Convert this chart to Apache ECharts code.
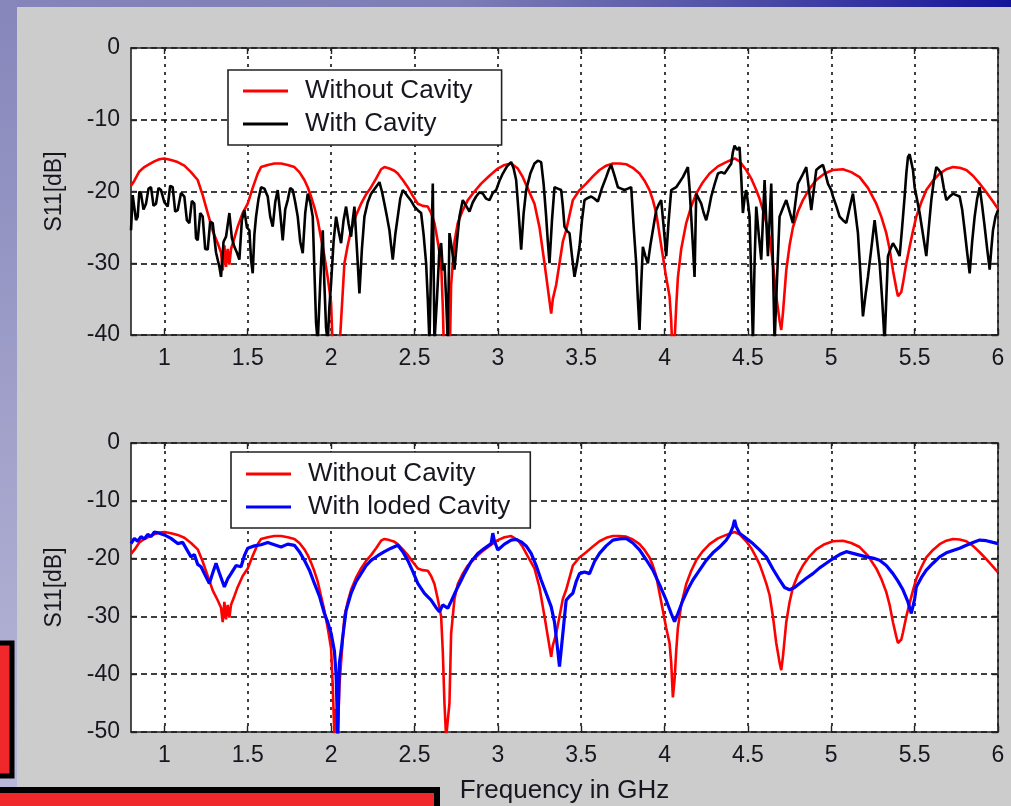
<!DOCTYPE html>
<html>
<head>
<meta charset="utf-8">
<script src="https://cdn.jsdelivr.net/npm/echarts@6/dist/echarts.min.js"></script>
<style>
html,body{margin:0;padding:0;background:#cccccc;}
#chart{width:1011px;height:806px;}
</style>
</head>
<body>
<div id="chart"></div>
<script>
// ---------- DATA (frequency GHz, S11 dB) ----------
const freqTicks = [1, 1.5, 2, 2.5, 3, 3.5, 4, 4.5, 5, 5.5, 6];
const topYTicks = [0, -10, -20, -30, -40];
const bottomYTicks = [0, -10, -20, -30, -40, -50];
const seriesNames = ['Without Cavity', 'With Cavity', 'With loded Cavity'];
const xTitle = 'Frequency in GHz';
const yTitle = 'S11[dB]';

const withoutCavity = [
[0.80,-19.2],[0.82,-18.5],[0.85,-17.2],[0.88,-16.6],[0.91,-16.2],[0.94,-15.8],[0.97,-15.5],[1.00,-15.4],[1.04,-15.6],[1.08,-15.9],
[1.12,-16.4],[1.16,-17.3],[1.20,-18.4],[1.23,-20.5],[1.26,-23],[1.29,-25.5],[1.32,-27.2],[1.34,-28.5],[1.35,-31],[1.36,-27.5],
[1.37,-30.5],[1.38,-28],[1.39,-30.2],[1.40,-28],[1.42,-26.5],[1.44,-24.9],[1.47,-23],[1.50,-21.7],[1.53,-19.5],[1.56,-17.5],
[1.58,-16.6],[1.62,-16.3],[1.66,-16.1],[1.70,-16.1],[1.74,-16.3],[1.78,-16.6],[1.81,-17.3],[1.84,-18.4],[1.86,-19.4],[1.88,-20.7],
[1.90,-22.2],[1.92,-24],[1.94,-26.5],[1.96,-29],[1.98,-32],[2.00,-35.5],[2.01,-42],[2.02,-51],[2.03,-46],[2.04,-51],
[2.05,-42],[2.06,-38],[2.08,-30],[2.10,-27.5],[2.12,-25.4],[2.15,-23.3],[2.18,-21.7],[2.21,-20.4],[2.24,-19.4],[2.27,-18.2],
[2.30,-16.9],[2.32,-16.6],[2.35,-16.8],[2.38,-17.1],[2.40,-17.5],[2.43,-18.4],[2.46,-19.4],[2.49,-20.6],[2.52,-21.7],[2.55,-22],
[2.58,-22.1],[2.60,-23],[2.62,-24.4],[2.64,-27],[2.66,-30],[2.67,-36],[2.68,-45],[2.69,-51],[2.70,-51],[2.71,-45],
[2.72,-33],[2.74,-27],[2.76,-24.4],[2.79,-22.6],[2.82,-21.2],[2.86,-20],[2.90,-18.9],[2.95,-17.8],[3.00,-16.8],[3.04,-16.3],
[3.08,-16.1],[3.12,-16.8],[3.15,-18],[3.18,-19.6],[3.22,-21.7],[3.25,-25],[3.28,-30],[3.30,-33.5],[3.32,-37],[3.33,-35],
[3.35,-33],[3.37,-30],[3.39,-27],[3.41,-25.4],[3.45,-21.2],[3.49,-19.8],[3.53,-18.9],[3.57,-17.9],[3.61,-17],[3.65,-16.4],
[3.69,-16.1],[3.73,-16.1],[3.77,-16.2],[3.81,-16.7],[3.85,-17.5],[3.88,-18.5],[3.91,-19.8],[3.93,-21.2],[3.95,-23],[3.97,-26],
[3.99,-29],[4.01,-32],[4.03,-34.6],[4.04,-38],[4.05,-44],[4.06,-41],[4.07,-36],[4.08,-32],[4.10,-28],[4.13,-24.4],
[4.16,-22.1],[4.19,-20.3],[4.23,-18.7],[4.27,-17.5],[4.32,-16.5],[4.37,-15.9],[4.42,-15.4],[4.45,-15.8],[4.49,-17],[4.52,-18.2],
[4.55,-19.8],[4.57,-21],[4.59,-22.6],[4.61,-24.3],[4.63,-26.3],[4.65,-30],[4.67,-34.6],[4.69,-38],[4.70,-39.3],[4.71,-37],
[4.73,-31],[4.75,-27.5],[4.77,-25],[4.80,-22.8],[4.83,-21.2],[4.87,-19.6],[4.91,-18.4],[4.96,-17.5],[5.01,-17],[5.07,-16.9],
[5.12,-17.3],[5.17,-18],[5.22,-19.5],[5.27,-21.7],[5.30,-23.5],[5.33,-25.8],[5.35,-28],[5.37,-31],[5.39,-33.5],[5.40,-34.6],
[5.42,-34],[5.43,-32.8],[5.45,-30],[5.47,-27.7],[5.49,-25.5],[5.51,-23.5],[5.54,-21.5],[5.57,-19.8],[5.61,-18.5],[5.65,-17.5],
[5.69,-16.9],[5.73,-16.6],[5.77,-16.7],[5.81,-17],[5.85,-17.8],[5.89,-18.9],[5.93,-20.1],[5.97,-21.4],[6.00,-22.4]
];

const withCavity = [
[0.80,-25.4],[0.81,-20.5],[0.82,-20.7],[0.83,-24],[0.84,-23.5],[0.85,-20],[0.86,-20.3],[0.875,-22.5],[0.89,-21.7],[0.905,-19.6],
[0.92,-19.4],[0.935,-22],[0.95,-21.7],[0.965,-19.5],[0.98,-19.8],[1.00,-21.5],[1.02,-22.1],[1.035,-19.2],[1.05,-19.4],[1.065,-22.8],
[1.08,-22.6],[1.10,-20.2],[1.12,-20.7],[1.135,-24],[1.15,-24.4],[1.165,-21.3],[1.18,-21.7],[1.19,-26.5],[1.20,-26.8],[1.215,-23],
[1.23,-23.5],[1.245,-28],[1.26,-28.1],[1.275,-24.2],[1.29,-24.4],[1.31,-28.5],[1.33,-30.5],[1.34,-31.9],[1.355,-27],[1.37,-26.3],
[1.39,-23],[1.405,-26.5],[1.42,-27.7],[1.435,-28.5],[1.45,-29.5],[1.465,-24],[1.48,-22.6],[1.495,-25],[1.51,-25.4],[1.52,-29.5],
[1.53,-31.4],[1.54,-26],[1.55,-23.5],[1.565,-21],[1.58,-19.4],[1.60,-19.6],[1.62,-20.7],[1.635,-23.5],[1.65,-24.9],[1.665,-21.5],
[1.68,-19.8],[1.695,-23],[1.71,-26.8],[1.725,-22.5],[1.74,-21.2],[1.755,-19.5],[1.77,-19.8],[1.785,-21.5],[1.80,-23.5],[1.815,-27],
[1.83,-28.6],[1.845,-23],[1.86,-20.3],[1.875,-21.5],[1.89,-23.5],[1.90,-31],[1.91,-38.3],[1.92,-41],[1.93,-41],[1.94,-30],
[1.95,-25.4],[1.96,-33],[1.97,-39],[1.98,-41],[1.99,-36],[2.00,-32.8],[2.015,-27],[2.03,-23.5],[2.045,-25.5],[2.06,-27.2],
[2.075,-24],[2.09,-22.1],[2.105,-24.5],[2.12,-26.3],[2.13,-24],[2.14,-22.1],[2.155,-28],[2.17,-34.2],[2.185,-28],[2.20,-23.5],
[2.22,-21.5],[2.24,-20.3],[2.265,-19.5],[2.29,-18.7],[2.305,-20],[2.32,-21.7],[2.335,-23.5],[2.35,-25.4],[2.36,-27.5],[2.37,-29.5],
[2.385,-26],[2.40,-23.5],[2.415,-21],[2.43,-19.8],[2.445,-20.2],[2.46,-20.7],[2.48,-21.3],[2.50,-22.1],[2.52,-22.6],[2.54,-23],
[2.555,-26],[2.57,-30],[2.58,-35],[2.59,-41],[2.60,-30],[2.61,-18.9],[2.615,-30],[2.62,-41],[2.635,-35],[2.65,-28],
[2.66,-27.2],[2.67,-31],[2.68,-30],[2.69,-35],[2.70,-41],[2.71,-25.8],[2.725,-28],[2.74,-30.9],[2.755,-27],[2.77,-23.5],
[2.79,-21.2],[2.81,-22],[2.83,-22.8],[2.85,-21.5],[2.87,-20.7],[2.89,-20.1],[2.91,-20.3],[2.93,-21],[2.95,-21.2],[2.97,-20.2],
[2.99,-19.8],[3.01,-18.5],[3.03,-17.5],[3.055,-16.5],[3.08,-15.9],[3.095,-16.8],[3.11,-18.4],[3.125,-23],[3.14,-28.1],[3.155,-23],
[3.17,-19.8],[3.195,-17.5],[3.22,-16.1],[3.24,-15.7],[3.26,-15.9],[3.275,-19],[3.29,-23.5],[3.30,-27],[3.31,-30],[3.325,-24],
[3.34,-19.4],[3.36,-19.6],[3.38,-19.8],[3.39,-22],[3.40,-24.9],[3.415,-25.5],[3.43,-25.8],[3.445,-29],[3.46,-31.9],[3.475,-30],
[3.49,-27.7],[3.505,-24],[3.52,-21.2],[3.54,-20.9],[3.56,-20.7],[3.58,-21],[3.60,-21.4],[3.625,-19.5],[3.65,-18],[3.665,-17],
[3.68,-16.3],[3.70,-17.8],[3.72,-19.4],[3.74,-19.6],[3.76,-19.8],[3.78,-19.6],[3.80,-19.4],[3.815,-25],[3.83,-30],[3.84,-35],
[3.85,-39.3],[3.86,-33],[3.87,-27.7],[3.885,-29],[3.90,-30],[3.915,-27.5],[3.93,-25.4],[3.94,-24],[3.95,-22.6],[3.965,-21.8],
[3.98,-21.2],[3.995,-25],[4.01,-29],[4.025,-24],[4.04,-19.8],[4.055,-19.6],[4.07,-19.4],[4.09,-18.7],[4.11,-18],[4.125,-17.3],
[4.14,-16.6],[4.15,-19.5],[4.16,-23.5],[4.17,-27.5],[4.18,-31.9],[4.19,-20.3],[4.205,-21],[4.22,-21.7],[4.235,-23],[4.25,-24],
[4.265,-22.5],[4.28,-20.7],[4.30,-19],[4.32,-17.5],[4.34,-17.3],[4.36,-17.5],[4.38,-16.8],[4.40,-16.1],[4.41,-14.5],[4.42,-13.6],
[4.435,-14.2],[4.45,-13.8],[4.46,-18],[4.47,-23],[4.48,-21],[4.49,-19.8],[4.50,-21.5],[4.51,-23.5],[4.52,-32],[4.53,-41],
[4.54,-30],[4.55,-22.1],[4.565,-26],[4.58,-29.5],[4.59,-24],[4.60,-18.4],[4.61,-24],[4.62,-29],[4.63,-24],[4.64,-18.9],
[4.65,-30],[4.66,-41],[4.675,-32],[4.69,-23.5],[4.71,-22.3],[4.73,-21.2],[4.75,-22.8],[4.77,-24.4],[4.785,-21.5],[4.80,-18.9],
[4.825,-17.8],[4.85,-16.6],[4.865,-19.5],[4.88,-22.6],[4.895,-19.8],[4.91,-17],[4.93,-16.6],[4.95,-16.3],[4.965,-17.5],[4.98,-18.9],
[5.00,-19.8],[5.01,-20.7],[5.03,-22],[5.05,-23.5],[5.07,-24],[5.09,-24.4],[5.11,-22.3],[5.13,-20.3],[5.145,-23],[5.16,-25.8],
[5.175,-31.5],[5.19,-37.4],[5.205,-34.5],[5.22,-31.9],[5.24,-28],[5.26,-24],[5.275,-27],[5.29,-30],[5.305,-35],[5.32,-41],
[5.33,-35],[5.34,-29],[5.355,-28],[5.37,-27.2],[5.39,-28],[5.41,-29],[5.425,-25],[5.44,-20.7],[5.45,-17.5],[5.46,-15.2],
[5.47,-14.8],[5.48,-15],[5.49,-17],[5.50,-19.4],[5.515,-21.2],[5.53,-23],[5.55,-26],[5.57,-29],[5.585,-25],[5.60,-21.2],
[5.615,-18.5],[5.63,-16.6],[5.645,-17],[5.66,-17.5],[5.675,-19.5],[5.69,-21.2],[5.71,-20.7],[5.73,-20.3],[5.75,-20.5],[5.77,-20.7],
[5.785,-22.5],[5.80,-25.4],[5.815,-28.5],[5.83,-31.4],[5.845,-27],[5.86,-23.5],[5.875,-21],[5.89,-19.4],[5.905,-22],[5.92,-24.9],
[5.935,-28],[5.95,-30.9],[5.96,-28],[5.97,-25.4],[5.985,-23.5],[6.00,-22.6]
];

const withLodedCavity = [
[0.80,-17.4],[0.82,-16.5],[0.84,-17],[0.86,-16.2],[0.88,-16.6],[0.90,-15.8],[0.92,-16.2],[0.94,-15.4],[0.97,-15.6],[1.00,-15.9],
[1.04,-16.5],[1.08,-17.4],[1.11,-17.2],[1.14,-18.7],[1.16,-19.7],[1.18,-19.3],[1.20,-21],[1.22,-21.4],[1.24,-22.6],[1.27,-24.3],
[1.29,-22.5],[1.31,-20.8],[1.33,-22.5],[1.36,-24.9],[1.38,-23.5],[1.40,-22.6],[1.43,-21.2],[1.46,-21.4],[1.48,-19.5],[1.50,-18.2],
[1.54,-17.8],[1.58,-17.6],[1.62,-17.2],[1.66,-17.6],[1.70,-18],[1.74,-17.5],[1.78,-17.7],[1.81,-18.8],[1.84,-20.3],[1.87,-22],
[1.90,-24.3],[1.93,-26.5],[1.96,-29.5],[1.98,-31],[2.00,-32.9],[2.02,-36],[2.03,-40],[2.04,-50.5],[2.05,-38],[2.06,-36],
[2.07,-33.5],[2.09,-29],[2.12,-26],[2.15,-24],[2.18,-22.6],[2.21,-21.2],[2.24,-20.3],[2.28,-19.5],[2.32,-18.8],[2.36,-18.2],
[2.40,-17.7],[2.43,-18.8],[2.46,-20.3],[2.49,-22.2],[2.52,-24.3],[2.56,-26],[2.60,-27.2],[2.63,-28.5],[2.65,-29.2],[2.67,-28],
[2.70,-28.6],[2.72,-27.4],[2.75,-25.5],[2.78,-23.8],[2.80,-22.6],[2.84,-20.5],[2.88,-19.1],[2.92,-18.2],[2.96,-17.4],[2.97,-15.6],
[2.98,-17],[3.00,-18.5],[3.04,-17.5],[3.08,-16.8],[3.11,-16.7],[3.14,-17.1],[3.17,-17.8],[3.20,-19.1],[3.23,-21.2],[3.26,-23.7],
[3.29,-26],[3.32,-28.3],[3.34,-31],[3.36,-36],[3.37,-38.7],[3.39,-33],[3.41,-27.2],[3.43,-26.5],[3.45,-26],[3.47,-24],
[3.49,-22.6],[3.52,-22.3],[3.55,-22.6],[3.58,-20.5],[3.61,-19.1],[3.65,-17.8],[3.69,-16.8],[3.73,-16.6],[3.77,-16.5],[3.81,-17.3],
[3.85,-18.5],[3.89,-20.2],[3.93,-22],[3.97,-24.5],[4.01,-27.2],[4.04,-29.5],[4.06,-30.9],[4.08,-29.5],[4.11,-27.2],[4.14,-25.3],
[4.17,-23.7],[4.21,-22],[4.25,-20.3],[4.29,-19],[4.33,-18],[4.37,-16.8],[4.39,-15.9],[4.41,-14.5],[4.42,-13.3],[4.43,-14.5],
[4.45,-15.6],[4.49,-16.5],[4.53,-17.4],[4.57,-18.5],[4.61,-19.7],[4.65,-21.8],[4.69,-23.7],[4.72,-25],[4.75,-25.4],[4.78,-25],
[4.81,-24.3],[4.85,-23.4],[4.89,-22.6],[4.93,-21.6],[4.97,-20.8],[5.01,-20],[5.05,-19.3],[5.09,-18.8],[5.13,-19.1],[5.17,-19.4],
[5.21,-19.7],[5.25,-19.9],[5.29,-20.3],[5.33,-21.2],[5.37,-22.6],[5.40,-23.9],[5.43,-25.4],[5.46,-27.5],[5.48,-29.5],[5.50,-27],
[5.51,-24.9],[5.54,-23.3],[5.57,-22],[5.61,-20.8],[5.65,-19.7],[5.69,-19],[5.73,-18.6],[5.77,-18.2],[5.81,-17.7],[5.85,-17.2],
[5.89,-16.8],[5.93,-16.9],[5.97,-17.2],[6.00,-17.4]
];

// ---------- CHART ----------
const FONT = 'Liberation Sans, Arial, sans-serif';
const TXT = '#16161f';
const GRIDS = [
  {left: 131, right: 13, top: 48, height: 287},
  {left: 131, right: 13, top: 443, height: 289}
];

function xAxes(gi, withName) {
  return [
    {
      type: 'value', gridIndex: gi, position: 'bottom', min: 0.8, max: 6,
      axisLine: {show: true, onZero: false, lineStyle: {color: '#222', width: 1.6}},
      axisTick: {show: true, inside: true, length: 6, customValues: freqTicks, lineStyle: {color: '#222', width: 1.4}},
      axisLabel: {show: true, customValues: freqTicks, margin: 12, fontSize: 23, color: TXT, fontFamily: FONT},
      splitLine: {show: true, lineStyle: {color: '#000', width: 1.5, type: [3, 5]}},
      name: withName ? xTitle : '', nameLocation: 'middle', nameGap: 46,
      nameTextStyle: {fontSize: 26, color: TXT, fontFamily: FONT}
    },
    {
      type: 'value', gridIndex: gi, position: 'top', min: 0.8, max: 6,
      axisLine: {show: true, onZero: false, lineStyle: {color: '#222', width: 1.6}},
      axisTick: {show: true, inside: true, length: 6, customValues: freqTicks, lineStyle: {color: '#222', width: 1.4}},
      axisLabel: {show: false}, splitLine: {show: false}
    }
  ];
}
function yAxes(gi, ymin) {
  return [
    {
      type: 'value', gridIndex: gi, position: 'left', min: ymin, max: 0, interval: 10,
      axisLine: {show: true, onZero: false, lineStyle: {color: '#222', width: 1.6}},
      axisTick: {show: true, inside: true, length: 6, lineStyle: {color: '#222', width: 1.4}},
      axisLabel: {margin: 11, fontSize: 23, color: TXT, fontFamily: FONT},
      splitLine: {show: true, lineStyle: {color: '#000', width: 1.5, type: [6, 4]}},
      name: yTitle, nameLocation: 'middle', nameGap: 65, nameRotate: 90,
      nameTextStyle: {fontSize: 23, color: TXT, fontFamily: FONT}
    },
    {
      type: 'value', gridIndex: gi, position: 'right', min: ymin, max: 0, interval: 10,
      axisLine: {show: true, onZero: false, lineStyle: {color: '#222', width: 1.6}},
      axisTick: {show: true, inside: true, length: 6, lineStyle: {color: '#222', width: 1.4}},
      axisLabel: {show: false}, splitLine: {show: false}
    }
  ];
}
function lineSeries(name, data, color, xi, yi, w) {
  return {
    type: 'line', name: name, data: data, xAxisIndex: xi, yAxisIndex: yi,
    showSymbol: false, symbol: 'none', clip: true, animation: false,
    color: color, lineStyle: {color: color, width: w}, z: 3
  };
}
const legendCommon = {
  orient: 'vertical', backgroundColor: '#fff', borderColor: '#222', borderWidth: 1.6,
  itemWidth: 45, itemHeight: 3, itemGap: 7, icon: 'rect', borderRadius: 0,
  textStyle: {fontSize: 26, color: TXT, fontFamily: FONT, lineHeight: 26, padding: [0, 0, 0, 12]},
  selectedMode: false
};

const chart = echarts.init(document.getElementById('chart'), null, {renderer: 'canvas'});
chart.setOption({
  backgroundColor: '#cccccc',
  animation: false,
  grid: GRIDS.map(g => Object.assign({show: true, backgroundColor: '#ffffff', borderWidth: 0}, g)),
  xAxis: [...xAxes(0, false), ...xAxes(1, true)],
  yAxis: [...yAxes(0, -40), ...yAxes(1, -50)],
  legend: [
    Object.assign({}, legendCommon, {left: 228, top: 70, padding: [8, 29, 8, 15], data: [seriesNames[0], seriesNames[1]]}),
    Object.assign({}, legendCommon, {left: 231, top: 452, padding: [9, 20, 8, 15], data: [seriesNames[0], seriesNames[2]]})
  ],
  series: [
    lineSeries(seriesNames[0], withoutCavity, '#ff0000', 0, 0, 2.6),
    lineSeries(seriesNames[1], withCavity, '#000000', 0, 0, 2.6),
    lineSeries(seriesNames[0], withoutCavity, '#ff0000', 2, 2, 2.6),
    lineSeries(seriesNames[2], withLodedCavity, '#0000ff', 2, 2, 3.2)
  ],
  graphic: [
    {type: 'rect', shape: {x: 0, y: 0, width: 1011, height: 7}, silent: true,
     style: {fill: new echarts.graphic.LinearGradient(0, 0, 1, 0, [
       {offset: 0, color: '#8585bb'}, {offset: 0.45, color: '#7e7eb6'}, {offset: 0.7, color: '#5555a8'}, {offset: 1, color: '#14149a'}])}},
    {type: 'rect', shape: {x: 0, y: 0, width: 17, height: 806}, silent: true,
     style: {fill: new echarts.graphic.LinearGradient(0, 0, 0, 1, [
       {offset: 0, color: '#8686bb'}, {offset: 1, color: '#b9b9d8'}])}},
    {type: 'rect', shape: {x: -3, y: 643, width: 15, height: 133}, silent: true,
     style: {fill: '#f0282c', stroke: '#000', lineWidth: 5}},
    {type: 'rect', shape: {x: -3, y: 790, width: 440, height: 20}, silent: true,
     style: {fill: '#f0282c', stroke: '#000', lineWidth: 6}}
  ]
});
</script>
</body>
</html>
